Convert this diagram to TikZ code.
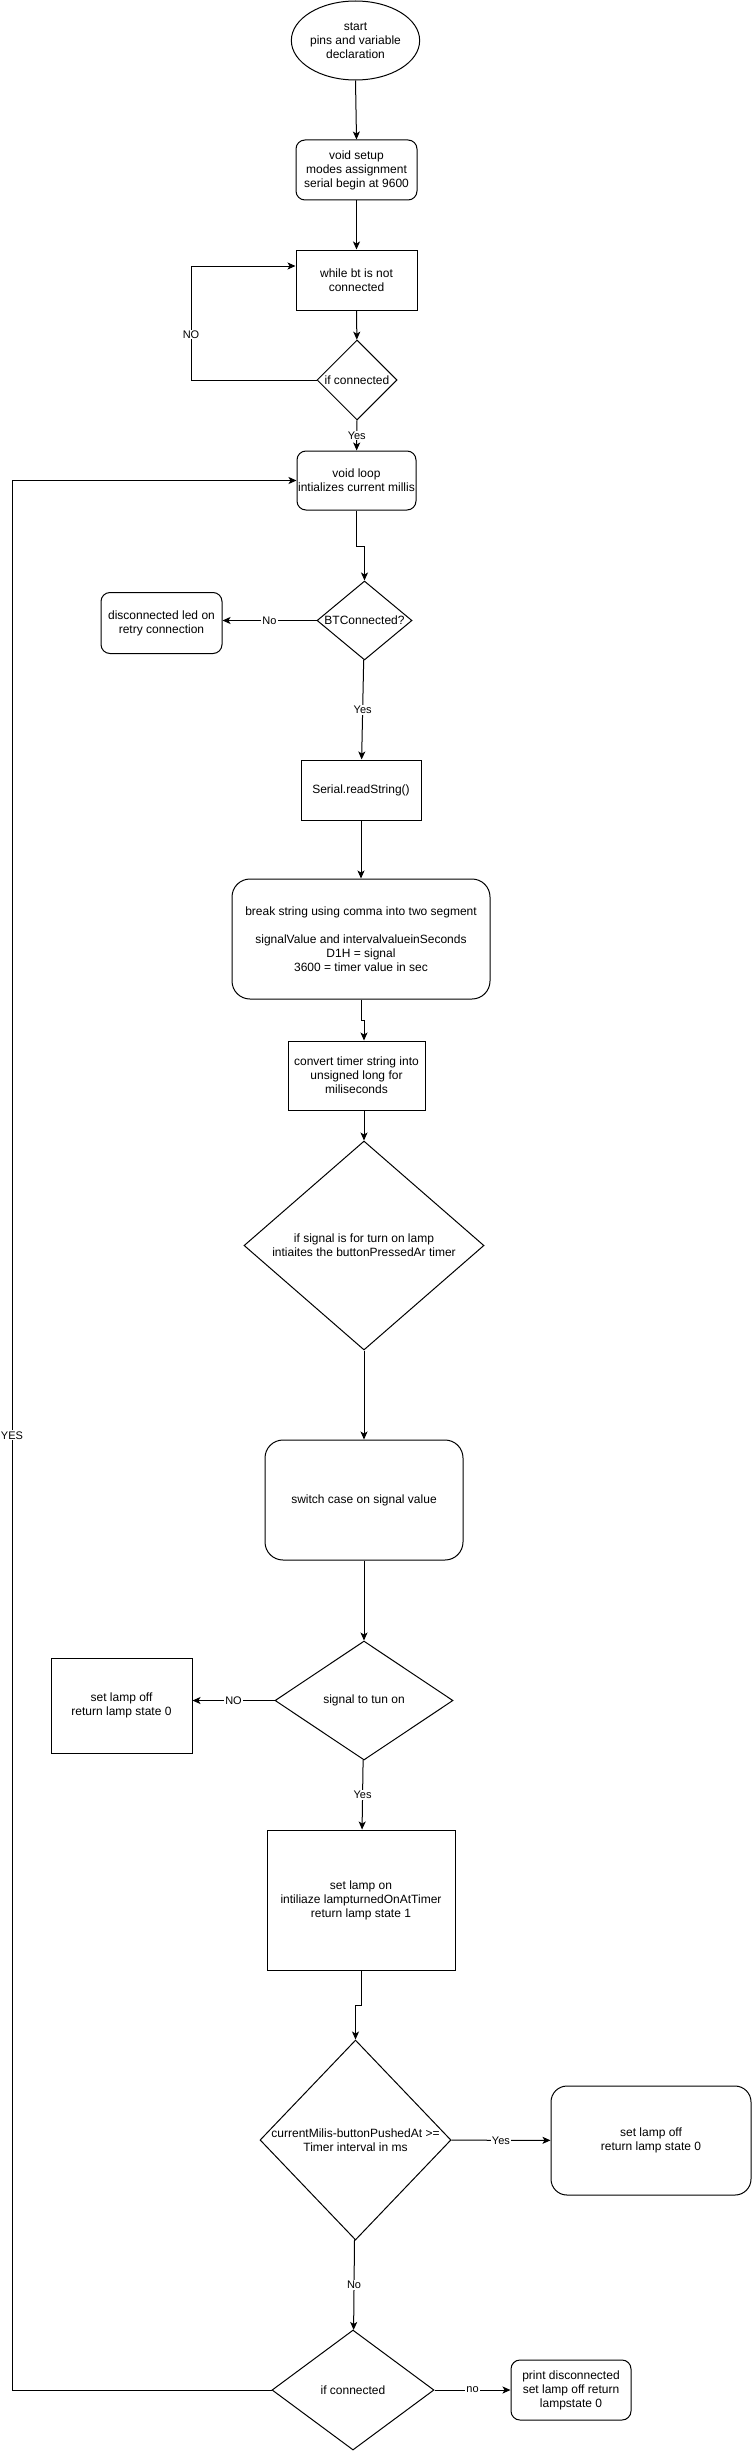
\documentclass[tikz,border=0pt]{standalone}
\usepackage{fontspec}
\setmainfont{Liberation Sans}
\usetikzlibrary{shapes.geometric}
\usetikzlibrary{arrows.meta}

\begin{document}
\begin{tikzpicture}[x=1pt, y=-1pt, line width=1pt,
    >={Stealth[length=8pt,width=7pt,inset=2pt]},
    box/.style={draw, inner sep=0pt, align=center, font=\fontsize{12}{14}\selectfont},
    rbox/.style={box, rounded corners=9pt},
    decision/.style={draw, diamond, inner sep=0pt},
    dtext/.style={inner sep=0pt, align=center, font=\fontsize{12}{14}\selectfont},
    lbl/.style={fill=white, inner sep=1pt, font=\fontsize{11}{13}\selectfont}]
    \useasboundingbox (0,0) rectangle (752,2451);

    \node[box, ellipse, minimum width=121pt, minimum height=79pt] (start) at (355.5,40.5) {start\\pins and variable\\declaration};
    \node[rbox, minimum width=121pt, minimum height=60pt] (setup) at (356.5,170) {void setup\\modes assignment\\serial begin at 9600};
    \node[box, minimum width=121pt, minimum height=60pt] (while) at (356.5,280) {while bt is not\\connected};
    \node[decision, minimum width=80pt, minimum height=80pt, label={[dtext]center:if connected}] (ifcon) at (357,380) {};
    \node[rbox, minimum width=119pt, minimum height=59pt] (loop) at (356.5,480.5) {void loop\\intializes current millis};

    \node[decision, minimum width=95pt, minimum height=79pt, label={[dtext]center:BTConnected?}] (bt) at (364.5,620.5) {};
    \node[rbox, minimum width=121pt, minimum height=61pt] (discled) at (161.5,623) {disconnected led on\\retry connection};
    \node[box, minimum width=120pt, minimum height=60pt] (serial) at (361,790) {Serial.readString()};
    \node[rbox, rounded corners=18pt, minimum width=258pt, minimum height=120pt] (split) at (361,939) {break string using comma into two segment\\[14pt]signalValue and intervalvalueinSeconds\\D1H = signal\\3600 = timer value in sec};
    \node[box, minimum width=137pt, minimum height=69pt] (convert) at (356.5,1075.5) {convert timer string into\\unsigned long for\\miliseconds};

    \node[decision, minimum width=240pt, minimum height=209pt, label={[dtext]center:{if signal is for turn on lamp\\intiaites the buttonPressedAr timer}}] (lampsig) at (364,1245.5) {};
    \node[rbox, rounded corners=18pt, minimum width=198pt, minimum height=120pt] (switch) at (364,1500) {switch case on signal value};
    \node[decision, minimum width=178pt, minimum height=119pt, label={[dtext]center:signal to tun on}] (turnon) at (364,1700.5) {};
    \node[box, minimum width=141pt, minimum height=95pt] (lampoff) at (121.5,1705.5) {set lamp off\\return lamp state 0};
    \node[box, minimum width=188pt, minimum height=140pt] (lampon) at (361,1900) {set lamp on\\intiliaze lampturnedOnAtTimer\\return lamp state 1};

    \node[decision, minimum width=191pt, minimum height=200pt, label={[dtext]center:{currentMilis-buttonPushedAt >=\\Timer interval in ms}}] (timer) at (355.5,2140) {};
    \node[rbox, rounded corners=16pt, minimum width=200pt, minimum height=109pt] (timeoff) at (651,2140.5) {set lamp off\\return lamp state 0};
    \node[decision, minimum width=162pt, minimum height=120pt, label={[dtext]center:if connected}] (ifcon2) at (353,2390) {};
    \node[rbox, minimum width=120pt, minimum height=60pt] (printdc) at (571,2390) {print disconnected\\set lamp off return\\lampstate 0};

    \coordinate (nobend) at (191,380);
    \coordinate (yesbend) at (12,2390);

    \draw[arrows=->] (start.south) -- (setup.north);
    \draw[arrows=->] (setup) -- (while);
    \draw[arrows=->] (while) -- (ifcon);
    \draw[arrows=->] (ifcon.west) -- (nobend) |- node[lbl, pos=0.2] (lblno1) {NO} ([yshift=14pt]while.west);
    \draw[arrows=->] (ifcon) -- node[lbl] (lblyes1) {Yes} (loop);
    \draw[arrows=->] (loop.south) -- ++(0,36) -| (bt.north);
    \draw[arrows=->] (bt.west) -- node[lbl] (lblno2) {No} (bt.west -| discled.east);
    \draw[arrows=->] (bt) -- node[lbl] (lblyes2) {Yes} (serial);
    \draw[arrows=->] (serial) -- (split);
    \draw[arrows=->] (split.south) -- ++(0,21) -| (convert.north -| lampsig.north);
    \draw[arrows=->] (convert.south -| lampsig.north) -- (lampsig.north);
    \draw[arrows=->] (lampsig) -- (switch);
    \draw[arrows=->] (switch) -- (turnon);
    \draw[arrows=->] (turnon.west) -- node[lbl] (lblno3) {NO} (turnon.west -| lampoff.east);
    \draw[arrows=->] (turnon) -- node[lbl] (lblyes3) {Yes} (lampon);
    \draw[arrows=->] (lampon.south) -- ++(0,35) -| (timer.north);
    \draw[arrows=->] (timer) -- node[lbl] (lblyes4) {Yes} (timeoff);
    \draw[arrows=->] (timer) -- node[lbl] (lblno4) {No} (ifcon2);
    \draw[arrows=->] (ifcon2) -- node[lbl] (lblno5) {no} (printdc);
    \draw[arrows=->] (ifcon2.west) -- (yesbend) |- node[lbl, pos=0.25] (lblyes5) {YES} (loop.west);
\end{tikzpicture}
\end{document}
